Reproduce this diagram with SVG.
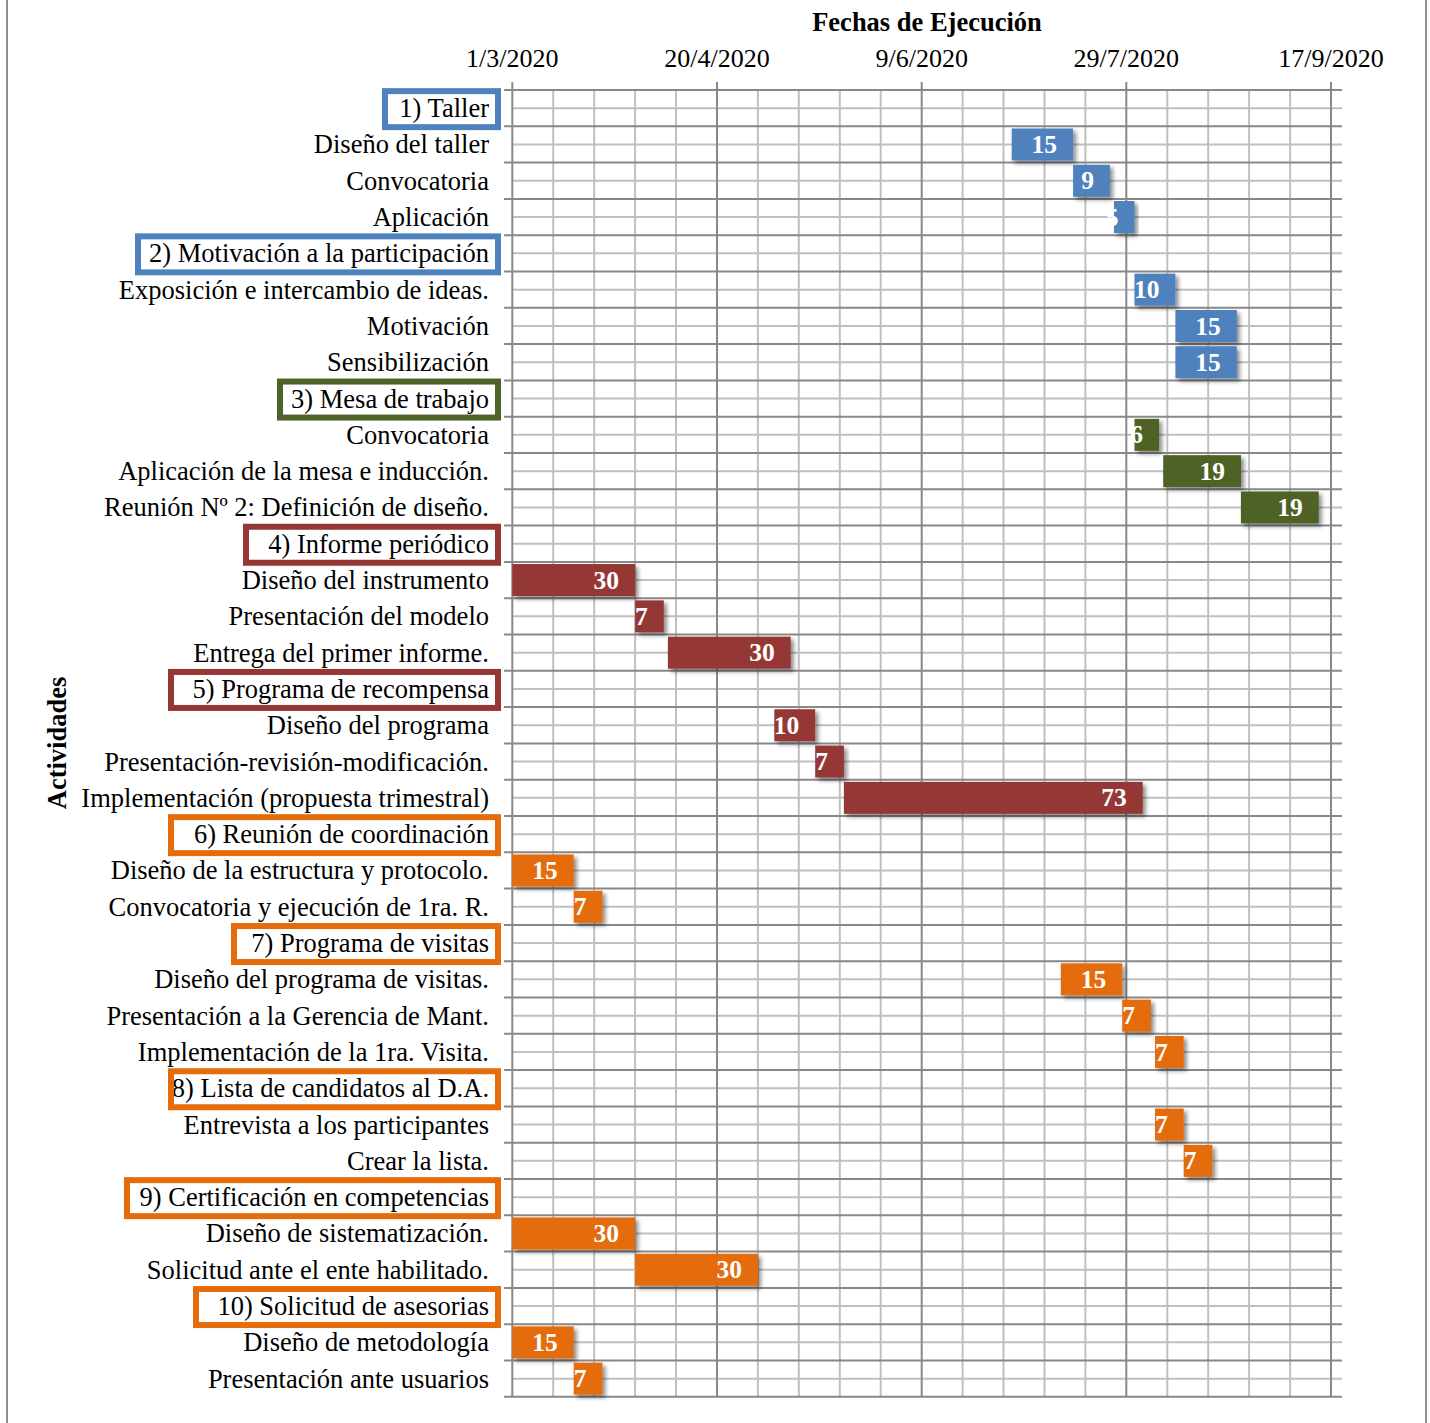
<svg xmlns="http://www.w3.org/2000/svg" width="1430" height="1423" viewBox="0 0 1430 1423">
<defs>
<filter id="sh" x="-10%" y="-20%" width="130%" height="170%"><feDropShadow dx="3" dy="3" stdDeviation="2" flood-color="#000" flood-opacity="0.45"/></filter>
<style>
.t{font-family:"Liberation Serif","Times New Roman",serif;font-size:26.5px;fill:#000;text-anchor:end}
.ax{font-family:"Liberation Serif","Times New Roman",serif;font-size:26px;fill:#000;text-anchor:middle}
.ttl{font-family:"Liberation Serif","Times New Roman",serif;font-size:26.5px;font-weight:bold;fill:#000;text-anchor:middle}
.v{font-family:"Liberation Serif","Times New Roman",serif;font-size:25.5px;font-weight:bold;fill:#fff;text-anchor:end}
.bar{filter:url(#sh)}
.B{fill:#4F81BD}.G{fill:#4F6228}.R{fill:#953735}.O{fill:#E46C0A}
.box{fill:none;stroke-width:6}
.bB{stroke:#4F81BD}.bG{stroke:#4F6228}.bR{stroke:#953735}.bO{stroke:#E46C0A}
.gmin{stroke:#C0C0C0;stroke-width:2;fill:none}
.gmaj{stroke:#888888;stroke-width:2;fill:none}
.page{stroke:#8F8F8F;stroke-width:2}
</style>
</defs>
<rect width="1430" height="1423" fill="#fff"/>
<line class="page" x1="7" y1="0" x2="7" y2="1423"/>
<line class="page" x1="1426" y1="0" x2="1426" y2="1423"/>

<g id="grid">
<path class="gmin" d="M512 108.15H1342M512 144.45H1342M512 180.75H1342M512 217.05H1342M512 253.35H1342M512 289.65H1342M512 325.95H1342M512 362.25H1342M512 398.55H1342M512 434.85H1342M512 471.15H1342M512 507.45H1342M512 543.75H1342M512 580.05H1342M512 616.35H1342M512 652.65H1342M512 688.95H1342M512 725.25H1342M512 761.55H1342M512 797.85H1342M512 834.15H1342M512 870.45H1342M512 906.75H1342M512 943.05H1342M512 979.35H1342M512 1015.65H1342M512 1051.95H1342M512 1088.25H1342M512 1124.55H1342M512 1160.85H1342M512 1197.15H1342M512 1233.45H1342M512 1269.75H1342M512 1306.05H1342M512 1342.35H1342M512 1378.65H1342"/>
<path class="gmin" d="M553.2 90V1397M594.2 90V1397M635.1 90V1397M676 90V1397M757.9 90V1397M798.8 90V1397M839.8 90V1397M880.7 90V1397M962.6 90V1397M1003.5 90V1397M1044.5 90V1397M1085.4 90V1397M1167.3 90V1397M1208.2 90V1397M1249.1 90V1397M1290.1 90V1397"/>
<path class="gmaj" d="M504 90H1342M504 126.3H1342M504 162.6H1342M504 198.9H1342M504 235.2H1342M504 271.5H1342M504 307.8H1342M504 344.1H1342M504 380.4H1342M504 416.7H1342M504 453H1342M504 489.3H1342M504 525.6H1342M504 561.9H1342M504 598.2H1342M504 634.5H1342M504 670.8H1342M504 707.1H1342M504 743.4H1342M504 779.7H1342M504 816H1342M504 852.3H1342M504 888.6H1342M504 924.9H1342M504 961.2H1342M504 997.5H1342M504 1033.8H1342M504 1070.1H1342M504 1106.4H1342M504 1142.7H1342M504 1179H1342M504 1215.3H1342M504 1251.6H1342M504 1287.9H1342M504 1324.2H1342M504 1360.5H1342M504 1396.8H1342"/>
<path class="gmaj" d="M512.3 82V1397M717 82V1397M921.7 82V1397M1126.3 82V1397M1331 82V1397"/>
</g>

<g id="axes">
<text class="ttl" x="927" y="31">Fechas de Ejecución</text>
<text class="ax" x="512.3" y="66.5">1/3/2020</text>
<text class="ax" x="717" y="66.5">20/4/2020</text>
<text class="ax" x="921.7" y="66.5">9/6/2020</text>
<text class="ax" x="1126.3" y="66.5">29/7/2020</text>
<text class="ax" x="1331" y="66.5">17/9/2020</text>
<text class="ttl" transform="translate(66,743) rotate(-90)">Actividades</text>
</g>

<g id="connectors"></g>

<g id="h1"><text class="t" x="489" y="117.15">1) Taller</text><rect class="box bB" x="385" y="91.15" width="113" height="36"/></g>
<g id="t1-1"><text class="t" x="489" y="153.45">Diseño del taller</text><rect class="bar B" x="1011.7" y="128.45" width="61.4" height="32"/><text class="v" x="1057.1" y="153.05">15</text></g>
<g id="t1-2"><text class="t" x="489" y="189.75">Convocatoria</text><rect class="bar B" x="1073.1" y="164.75" width="36.8" height="32"/><text class="v" x="1093.9" y="189.35">9</text></g>
<g id="t1-3"><text class="t" x="489" y="226.05">Aplicación</text><rect class="bar B" x="1114" y="201.05" width="20.5" height="32"/><text class="v" x="1118.5" y="225.65">5</text></g>

<g id="h2"><text class="t" x="489" y="262.35">2) Motivación a la participación</text><rect class="box bB" x="138" y="236.35" width="360" height="36"/></g>
<g id="t2-1"><text class="t" x="489" y="298.65">Exposición e intercambio de ideas.</text><rect class="bar B" x="1134.5" y="273.65" width="40.9" height="32"/><text class="v" x="1159.4" y="298.25">10</text></g>
<g id="t2-2"><text class="t" x="489" y="334.95">Motivación</text><rect class="bar B" x="1175.4" y="309.95" width="61.4" height="32"/><text class="v" x="1220.8" y="334.55">15</text></g>
<g id="t2-3"><text class="t" x="489" y="371.25">Sensibilización</text><rect class="bar B" x="1175.4" y="346.25" width="61.4" height="32"/><text class="v" x="1220.8" y="370.85">15</text></g>

<g id="h3"><text class="t" x="489" y="407.55">3) Mesa de trabajo</text><rect class="box bG" x="280" y="381.55" width="218" height="36"/></g>
<g id="t3-1"><text class="t" x="489" y="443.85">Convocatoria</text><rect class="bar G" x="1134.5" y="418.85" width="24.6" height="32"/><text class="v" x="1143.1" y="443.45">6</text></g>
<g id="t3-2"><text class="t" x="489" y="480.15">Aplicación de la mesa e inducción.</text><rect class="bar G" x="1163.2" y="455.15" width="77.8" height="32"/><text class="v" x="1225" y="479.75">19</text></g>
<g id="t3-3"><text class="t" x="489" y="516.45">Reunión Nº 2: Definición de diseño.</text><rect class="bar G" x="1240.9" y="491.45" width="77.8" height="32"/><text class="v" x="1302.7" y="516.05">19</text></g>

<g id="h4"><text class="t" x="489" y="552.75">4) Informe periódico</text><rect class="box bR" x="246" y="526.75" width="252" height="36"/></g>
<g id="t4-1"><text class="t" x="489" y="589.05">Diseño del instrumento</text><rect class="bar R" x="512.3" y="564.05" width="122.8" height="32"/><text class="v" x="619.1" y="588.65">30</text></g>
<g id="t4-2"><text class="t" x="489" y="625.35">Presentación del modelo</text><rect class="bar R" x="635.1" y="600.35" width="28.7" height="32"/><text class="v" x="647.8" y="624.95">7</text></g>
<g id="t4-3"><text class="t" x="489" y="661.65">Entrega del primer informe.</text><rect class="bar R" x="667.9" y="636.65" width="122.8" height="32"/><text class="v" x="774.7" y="661.25">30</text></g>

<g id="h5"><text class="t" x="489" y="697.95">5) Programa de recompensa</text><rect class="box bR" x="171" y="671.95" width="327" height="36"/></g>
<g id="t5-1"><text class="t" x="489" y="734.25">Diseño del programa</text><rect class="bar R" x="774.3" y="709.25" width="40.9" height="32"/><text class="v" x="799.2" y="733.85">10</text></g>
<g id="t5-2"><text class="t" x="489" y="770.55">Presentación-revisión-modificación.</text><rect class="bar R" x="815.2" y="745.55" width="28.7" height="32"/><text class="v" x="827.9" y="770.15">7</text></g>
<g id="t5-3"><text class="t" x="489" y="806.85">Implementación (propuesta trimestral)</text><rect class="bar R" x="843.9" y="781.85" width="298.8" height="32"/><text class="v" x="1126.7" y="806.45">73</text></g>

<g id="h6"><text class="t" x="489" y="843.15">6) Reunión de coordinación</text><rect class="box bO" x="171" y="817.15" width="327" height="36"/></g>
<g id="t6-1"><text class="t" x="489" y="879.45">Diseño de la estructura y protocolo.</text><rect class="bar O" x="512.3" y="854.45" width="61.4" height="32"/><text class="v" x="557.7" y="879.05">15</text></g>
<g id="t6-2"><text class="t" x="489" y="915.75">Convocatoria y ejecución de 1ra. R.</text><rect class="bar O" x="573.7" y="890.75" width="28.7" height="32"/><text class="v" x="586.4" y="915.35">7</text></g>

<g id="h7"><text class="t" x="489" y="952.05">7) Programa de visitas</text><rect class="box bO" x="234" y="926.05" width="264" height="36"/></g>
<g id="t7-1"><text class="t" x="489" y="988.35">Diseño del programa de visitas.</text><rect class="bar O" x="1060.8" y="963.35" width="61.4" height="32"/><text class="v" x="1106.2" y="987.95">15</text></g>
<g id="t7-2"><text class="t" x="489" y="1024.65">Presentación a la Gerencia de Mant.</text><rect class="bar O" x="1122.2" y="999.65" width="28.7" height="32"/><text class="v" x="1134.9" y="1024.25">7</text></g>
<g id="t7-3"><text class="t" x="489" y="1060.95">Implementación de la 1ra. Visita.</text><rect class="bar O" x="1155" y="1035.95" width="28.7" height="32"/><text class="v" x="1167.7" y="1060.55">7</text></g>

<g id="h8"><text class="t" x="489" y="1097.25">8) Lista de candidatos al D.A.</text><rect class="box bO" x="171" y="1071.25" width="327" height="36"/></g>
<g id="t8-1"><text class="t" x="489" y="1133.55">Entrevista a los participantes</text><rect class="bar O" x="1155" y="1108.55" width="28.7" height="32"/><text class="v" x="1167.7" y="1133.15">7</text></g>
<g id="t8-2"><text class="t" x="489" y="1169.85">Crear la lista.</text><rect class="bar O" x="1183.7" y="1144.85" width="28.7" height="32"/><text class="v" x="1196.4" y="1169.45">7</text></g>

<g id="h9"><text class="t" x="489" y="1206.15">9) Certificación en competencias</text><rect class="box bO" x="127" y="1180.15" width="371" height="36"/></g>
<g id="t9-1"><text class="t" x="489" y="1242.45">Diseño de sistematización.</text><rect class="bar O" x="512.3" y="1217.45" width="122.8" height="32"/><text class="v" x="619.1" y="1242.05">30</text></g>
<g id="t9-2"><text class="t" x="489" y="1278.75">Solicitud ante el ente habilitado.</text><rect class="bar O" x="635.1" y="1253.75" width="122.8" height="32"/><text class="v" x="741.9" y="1278.35">30</text></g>

<g id="h10"><text class="t" x="489" y="1315.05">10) Solicitud de asesorias</text><rect class="box bO" x="196" y="1289.05" width="302" height="36"/></g>
<g id="t10-1"><text class="t" x="489" y="1351.35">Diseño de metodología</text><rect class="bar O" x="512.3" y="1326.35" width="61.4" height="32"/><text class="v" x="557.7" y="1350.95">15</text></g>
<g id="t10-2"><text class="t" x="489" y="1387.65">Presentación ante usuarios</text><rect class="bar O" x="573.7" y="1362.65" width="28.7" height="32"/><text class="v" x="586.4" y="1387.25">7</text></g>
</svg>
